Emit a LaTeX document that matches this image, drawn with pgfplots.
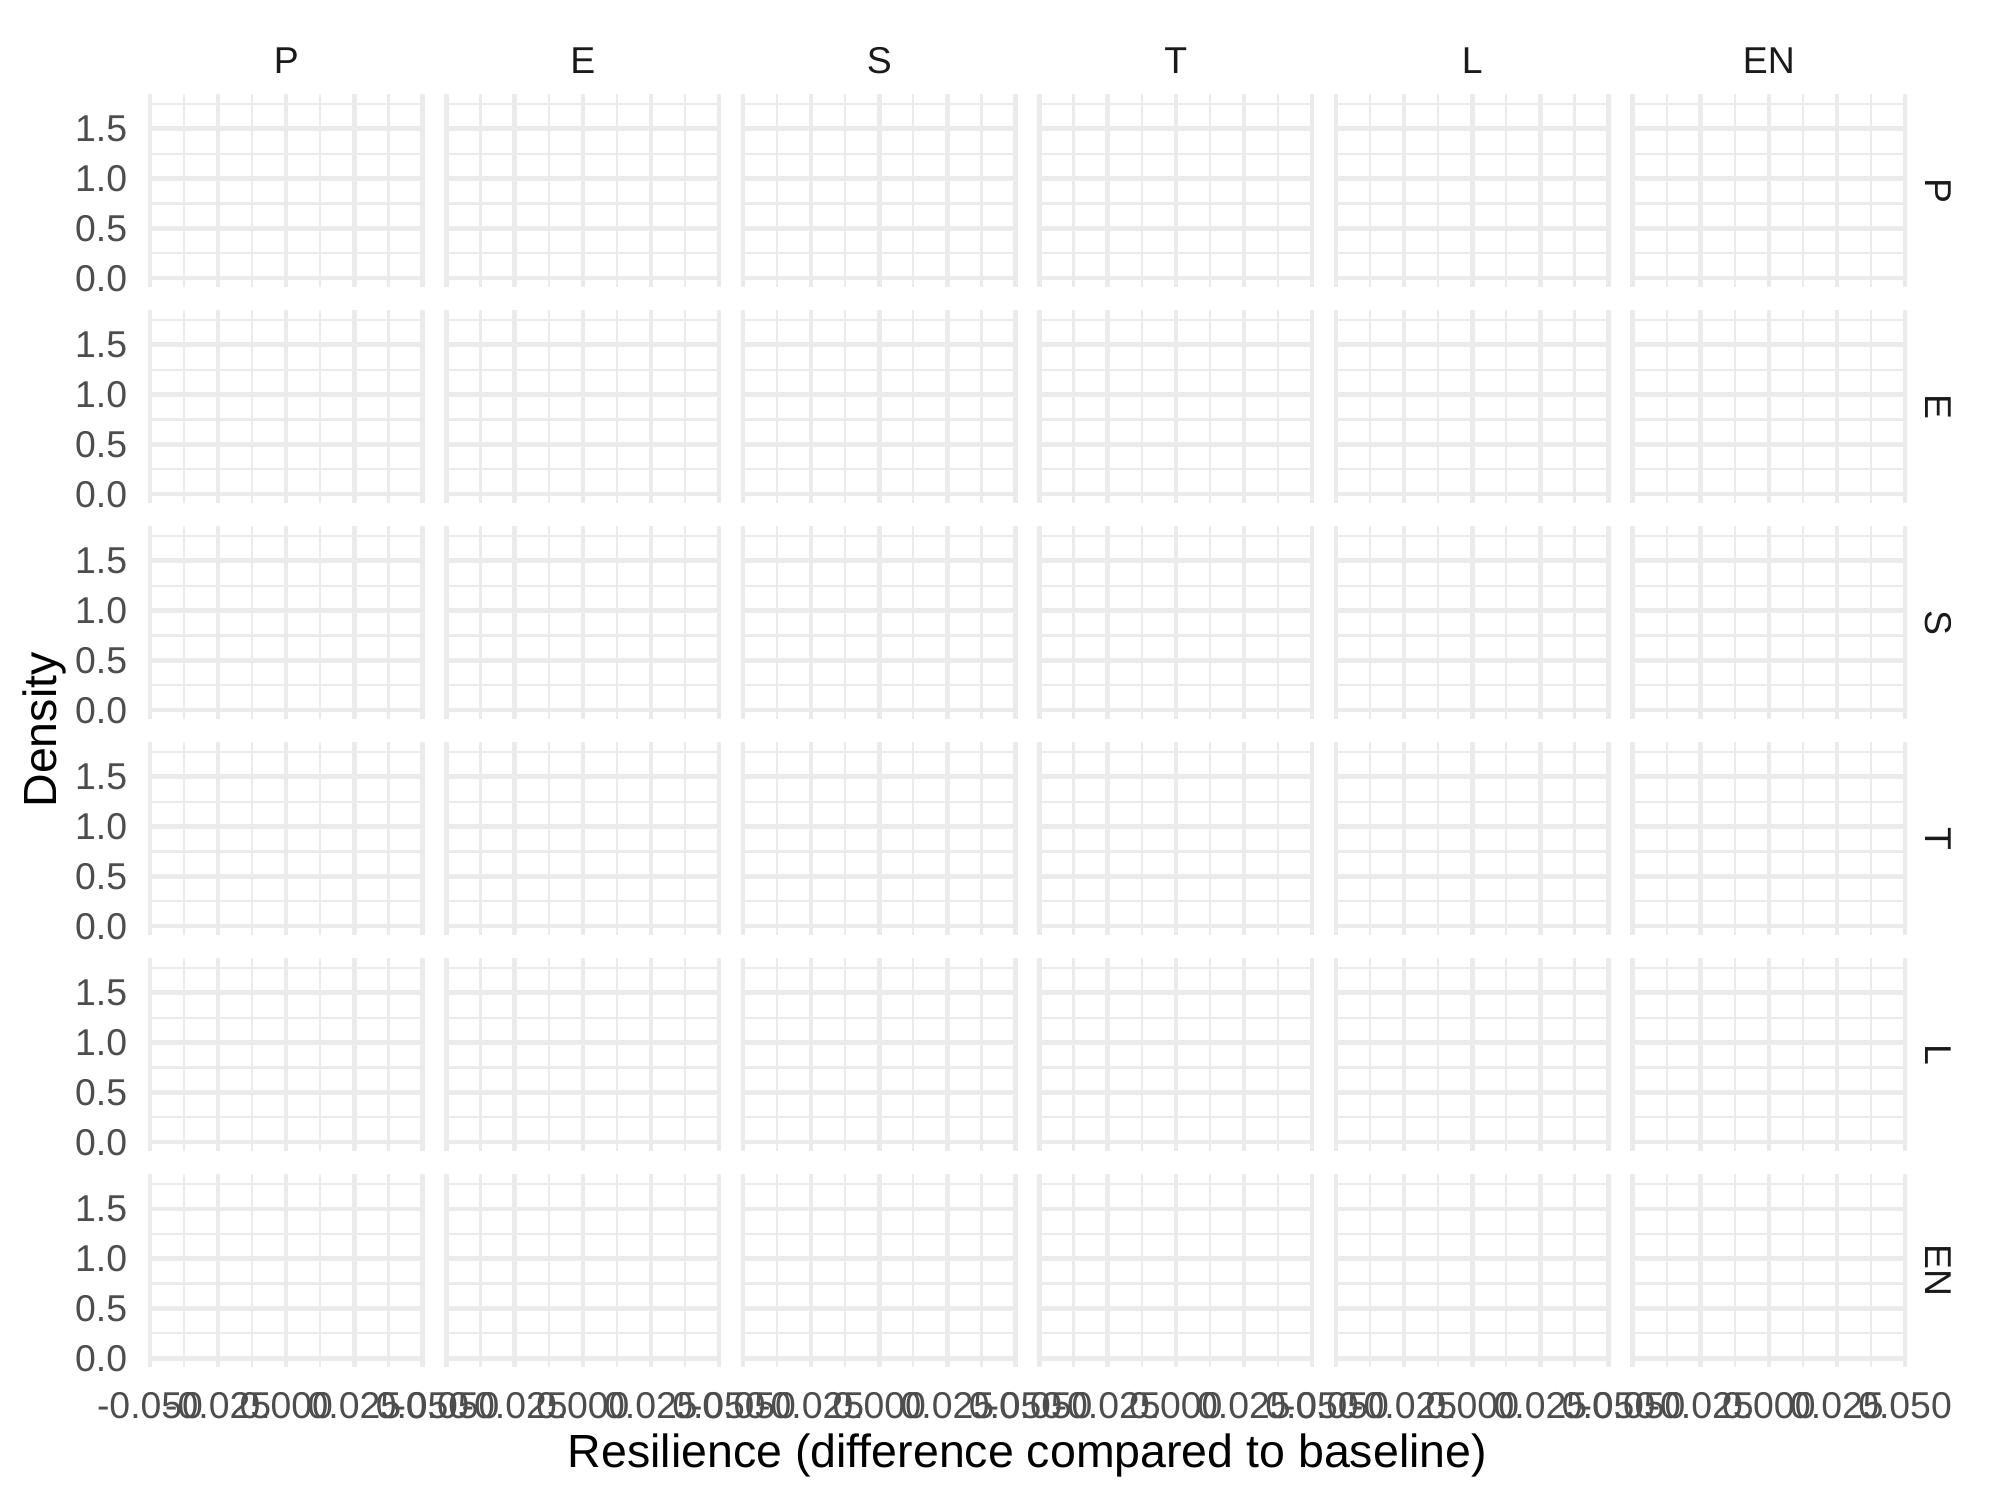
\documentclass[border=0pt]{standalone}
\usepackage{pgfplots}
\pgfplotsset{compat=1.18}
\usepackage{fontspec}
\setmainfont{Liberation Sans}
\definecolor{gridc}{HTML}{EBEBEB}
\definecolor{ticktxt}{HTML}{4D4D4D}
\definecolor{striptxt}{HTML}{1A1A1A}
\pgfplotsset{panel/.style={
  scale only axis, width=65.4bp, height=46.32bp,
  xmin=-0.05, xmax=0.05, ymin=-0.088, ymax=1.848,
  scaled x ticks=false, scaled y ticks=false,
  xtick={-0.05,-0.025,0,0.025,0.05},
  ytick={0,0.5,1,1.5},
  minor xtick={-0.0375,-0.0125,0.0125,0.0375},
  minor ytick={0.25,0.75,1.25,1.75},
  grid=both,
  major grid style={draw=gridc, line width=1.07bp},
  minor grid style={draw=gridc, line width=0.53bp},
  axis line style={draw=none},
  major tick length=0pt, minor tick length=0pt,
  xticklabels={}, yticklabels={},
  xticklabel style={font=\fontsize{9}{10}\selectfont, text=ticktxt, inner sep=0pt, anchor=north, yshift=-6bp},
  yticklabel style={font=\fontsize{9}{10}\selectfont, text=ticktxt, inner sep=0pt, anchor=east, xshift=-5.3bp},
  anchor=south west,
  clip=false,
}}
\begin{document}
\begin{tikzpicture}
\path[use as bounding box] (0,0) rectangle (480bp,-360bp);
\foreach \r in {0,...,5}{
  \foreach \c in {0,...,5}{
    \pgfmathsetmacro\xx{(150+296.5*\c)*0.24}
    \pgfmathsetmacro\yy{-(287+216*\r)*0.24}
    \ifnum\c=0 \pgfplotsset{leftlab/.style={yticklabels={0.0,0.5,1.0,1.5}}}\else\pgfplotsset{leftlab/.style={}}\fi
    \ifnum\r=5 \pgfplotsset{bottomlab/.style={xticklabels={-0.050,-0.025,0.000,0.025,0.050}}}\else\pgfplotsset{bottomlab/.style={}}\fi
    \begin{axis}[panel, leftlab, bottomlab, at={(\xx bp,\yy bp)}]
    \end{axis}
  }
}
% column strips
\foreach \lab [count=\i from 0] in {P,E,S,T,L,EN}{
  \pgfmathsetmacro\cx{(150+296.5*\i+136.25)*0.24}
  \node[font=\fontsize{9}{10}\selectfont, text=striptxt, anchor=base, inner sep=0pt] at (\cx bp,-73*0.24bp) {\lab};
  \pgfmathsetmacro\cy{-(94+216*\i+96.5)*0.24}
  \node[font=\fontsize{9}{10}\selectfont, text=striptxt, anchor=base, inner sep=0pt, rotate=-90] at (1926*0.24bp,\cy bp) {\lab};
}
\node[font=\fontsize{11.2}{13}\selectfont, anchor=base, inner sep=0pt] at (1027.5*0.24bp,-1468*0.24bp) {Resilience (difference compared to baseline)};
\node[font=\fontsize{11.2}{13}\selectfont, anchor=base, inner sep=0pt, rotate=90] at (56*0.24bp,-730*0.24bp) {Density};
\end{tikzpicture}
\end{document}
